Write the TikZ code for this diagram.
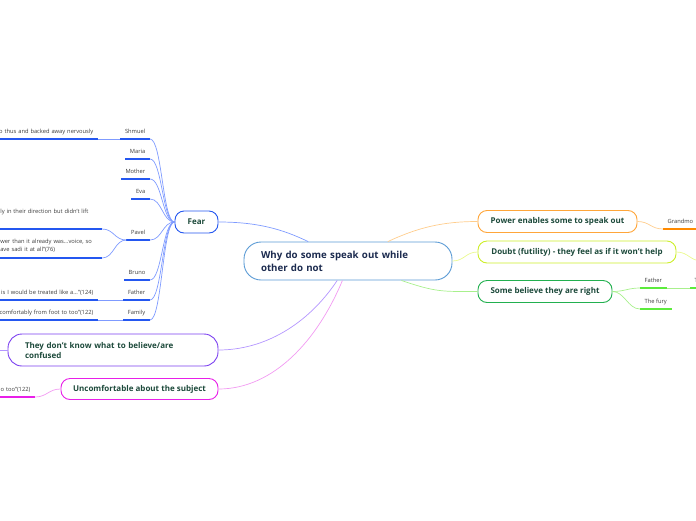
\documentclass[tikz,border=0pt]{standalone}
\usepackage{fontspec}
\setmainfont{Open Sans}
\usepackage{tikz}
\usetikzlibrary{positioning}
\definecolor{rootline}{HTML}{5B9BD5}
\definecolor{roottext}{HTML}{1C2B4F}
\definecolor{topictext}{HTML}{1D4A3B}
\definecolor{leaftext}{HTML}{3A3A3A}
\definecolor{fearblue}{HTML}{2457F0}
\definecolor{fearlink}{HTML}{7F9BFF}
\definecolor{confpurple}{HTML}{7B3FF0}
\definecolor{conflink}{HTML}{B496FF}
\definecolor{uncmag}{HTML}{E81FE8}
\definecolor{unclink}{HTML}{F29AF2}
\definecolor{powerorange}{HTML}{FFA63A}
\definecolor{powerlink}{HTML}{FFCD8C}
\definecolor{powerline}{HTML}{FF8A00}
\definecolor{doubtyellow}{HTML}{CDEE2A}
\definecolor{doubtlink}{HTML}{EAF98E}
\definecolor{rightgreen}{HTML}{22B04F}
\definecolor{rightlink}{HTML}{A8F08C}
\definecolor{rightline}{HTML}{5CEB3C}
\tikzset{root/.style={draw=rootline, line width=0.9pt, rounded corners=17pt, fill=white, text=roottext, font=\bfseries\fontsize{9.7}{13}\selectfont, align=left, text width=174pt, inner xsep=17pt, minimum height=38pt}}
\tikzset{topic/.style={draw=#1, line width=0.9pt, rounded corners=9pt, fill=white, text=topictext, font=\bfseries\fontsize{8}{10}\selectfont, minimum height=22pt, inner xsep=0pt}}
\tikzset{leaf/.style={text=leaftext, font=\fontsize{5.75}{7.8}\selectfont, inner xsep=4.5pt, inner ysep=4pt, text depth=1.5pt, append after command={\pgfextra{\draw[line width=1.6pt, #1] (\tikzlastnode.south west) -- (\tikzlastnode.south east);}}}}
\tikzset{link/.style={line width=0.7pt}}
\newcommand{\lbranch}[3]{\draw[link, #1] (#2) .. controls +(-12,0) and +(12,0) .. (#3);}
\newcommand{\rbranch}[3]{\draw[link, #1] (#2) .. controls +(12,0) and +(-12,0) .. (#3);}

\begin{document}
\begin{tikzpicture}[x=1pt, y=-1pt]
\useasboundingbox (0,0) rectangle (696,520);
\clip (0,0) rectangle (696,520);
\node[root] (central) at (348,261) {Why do some speak out while\\other do not};
\node[topic=fearblue, minimum width=43pt] (fear) at (196.5,222) {Fear};
\node[topic=confpurple, minimum height=32pt, rounded corners=14pt, align=left, text width=176pt, inner xsep=17pt] (confused) at (113,350) {They don't know what to believe/are\\confused};
\node[topic=uncmag, minimum width=157pt, minimum height=21pt] (uncomfortable) at (139.5,389) {Uncomfortable about the subject};
\node[topic=powerorange, minimum width=159pt] (power) at (557.5,221.5) {Power enables some to speak out};
\node[topic=doubtyellow, minimum width=198pt] (doubt) at (577,252) {Doubt (futility) - they feel as if it won't help};
\node[topic=rightgreen, minimum width=134pt] (believe) at (545,291.5) {Some believe they are right};
% fear branch
\node[leaf=fearblue, anchor=south east] (shmuel) at (150,139) {Shmuel};
\node[leaf=fearblue, anchor=south east] (maria) at (150,159) {Maria};
\node[leaf=fearblue, anchor=south east] (mother) at (150,179) {Mother};
\node[leaf=fearblue, anchor=south east] (eva) at (150,199) {Eva};
\node[leaf=fearblue, anchor=south east] (pavel) at (150,240) {Pavel};
\node[leaf=fearblue, anchor=south east] (bruno) at (150,280) {Bruno};
\node[leaf=fearblue, anchor=south east] (fatherl) at (150,300) {Father};
\node[leaf=fearblue, anchor=south east] (family) at (150,320) {Family};
\node[leaf=fearblue, anchor=south east, text width=110pt, align=right] (shmuelnote) at (98,139) {o thus and backed away nervously};
\node[leaf=fearblue, anchor=south east, text width=97pt, align=left, text depth=11pt] (paveleyes) at (102,229) {ly in their direction but didn't lift};
\node[leaf=fearblue, anchor=south east, text width=97pt, align=left, text depth=10pt] (pavelvoice) at (102,258) {wer than it already was...voice, so\\ave sadi it at all”(76)};
\node[leaf=fearblue, anchor=south east, text width=110pt, align=right] (fathernote) at (98,300) {is I would be treated like a...”(124)};
\node[leaf=fearblue, anchor=south east, text width=110pt, align=right] (familynote) at (98,320) {comfortably from foot to too”(122)};
\node[leaf=uncmag, anchor=south east, text width=60pt, align=right] (uncnote) at (35,397) {o too”(122)};
% right side
\node[leaf=powerline, anchor=south west, text width=40pt, align=left] (grandmo) at (663,229) {Grandmo};
\node[leaf=rightline, anchor=south west] (fatherr) at (640,288) {Father};
\node[leaf=rightline, anchor=south west] (fury) at (640,309) {The fury};
\node[leaf=rightline, anchor=south west, text width=30pt, align=left] (tnote) at (690,288) {T};
\coordinate (confusedend) at (-6,350);
\coordinate (doubtend) at (702,261);
% main links
\draw[link, fearlink] (central.154) .. controls +(-25,-12) and +(40,0) .. (fear.east);
\draw[link, conflink] (central.241) .. controls +(-30,45) and +(45,0) .. (confused.east);
\draw[link, unclink] (central.254) .. controls +(-25,60) and +(55,0) .. (uncomfortable.east);
\draw[link, powerlink] (central.26) .. controls +(30,-14) and +(-35,0) .. (power.west);
\draw[link, doubtlink] (central.east) .. controls +(12,0) and +(-12,0) .. (doubt.west);
\draw[link, rightlink] (central.340) .. controls +(35,12) and +(-35,0) .. (believe.west);
% sub links
\foreach \n in {shmuel,maria,mother,eva,pavel,bruno,fatherl,family}
  {\lbranch{fearlink}{fear.west}{\n.south east}}
\lbranch{fearlink}{shmuel.south west}{shmuelnote.south east}
\lbranch{fearlink}{pavel.south west}{paveleyes.south east}
\lbranch{fearlink}{pavel.south west}{pavelvoice.south east}
\lbranch{fearlink}{fatherl.south west}{fathernote.south east}
\lbranch{fearlink}{family.south west}{familynote.south east}
\lbranch{unclink}{uncomfortable.west}{uncnote.south east}
\draw[link, conflink] (confused.west) -- (confusedend);
\rbranch{powerlink}{power.east}{grandmo.south west}
\rbranch{doubtlink}{doubt.east}{doubtend}
\rbranch{rightlink}{believe.east}{fatherr.south west}
\rbranch{rightlink}{believe.east}{fury.south west}
\rbranch{rightlink}{fatherr.south east}{tnote.south west}
\end{tikzpicture}
\end{document}
